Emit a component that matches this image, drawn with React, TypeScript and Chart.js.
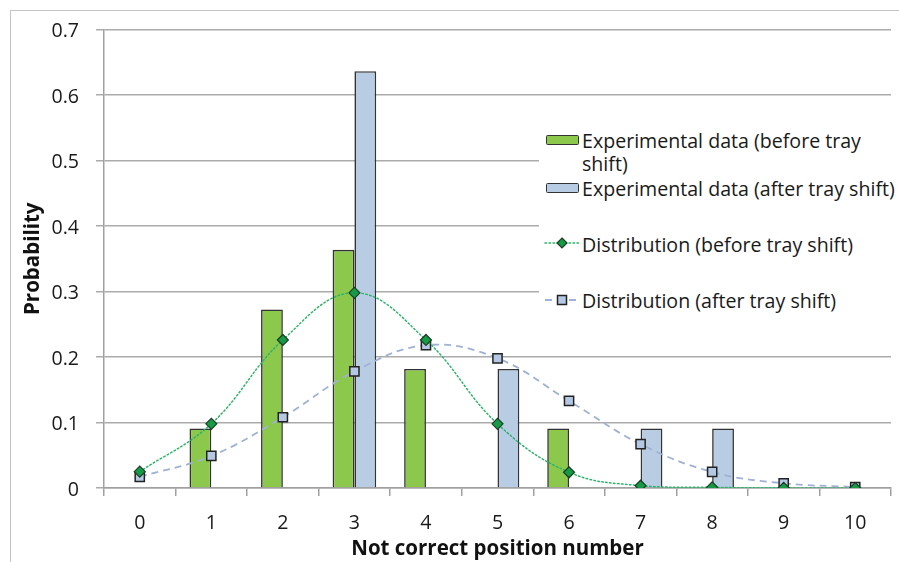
import React, { useEffect, useRef } from "react";
import { Chart, registerables } from "chart.js";

Chart.register(...registerables);

const categories = ["0", "1", "2", "3", "4", "5", "6", "7", "8", "9", "10"];
const beforeBars = [0, 0.0909, 0.2727, 0.3636, 0.1818, 0, 0.0909, 0, 0, 0, 0];
const afterBars = [0, 0, 0, 0.6364, 0, 0.1818, 0, 0.0909, 0.0909, 0, 0];
const beforeDist = [0.025, 0.098, 0.226, 0.298, 0.226, 0.098, 0.024, 0.0035, 0.001, 0.0002, 0];
const afterDist = [0.017, 0.049, 0.108, 0.178, 0.218, 0.198, 0.133, 0.067, 0.0245, 0.0072, 0.0015];
const yTicks = [0, 0.1, 0.2, 0.3, 0.4, 0.5, 0.6, 0.7];

const legendLabels = [
  "Experimental data (before tray shift)",
  "Experimental data (after tray shift)",
  "Distribution (before tray shift)",
  "Distribution (after tray shift)",
];

const FONT = "'Open Sans', sans-serif";
const GREEN = "#8cc84b";
const BLUE = "#b8cce4";
const BORDER = "#333";
const LINE_GREEN = "#2db36a";
const LINE_BLUE = "#9fb2d4";
const DIAMOND = "#159a45";
const TEXT_SIZE = 19.6;
const TITLE_SIZE = 20.5;

export default function App() {
  const ref = useRef<HTMLCanvasElement | null>(null);

  useEffect(() => {
    if (!ref.current) return;
    const chart = new Chart(ref.current, {
      type: "bar",
      data: {
        labels: categories,
        datasets: [
          {
            type: "line",
            label: legendLabels[2],
            data: beforeDist,
            borderColor: LINE_GREEN,
            borderWidth: 1.5,
            borderDash: [1.5, 2.5],
            borderCapStyle: "round",
            tension: 0.4,
            pointStyle: "rectRot",
            pointRadius: 5.5,
            pointBackgroundColor: DIAMOND,
            pointBorderColor: "#1d3d26",
            pointBorderWidth: 1.2,
            order: 0,
          } as any,
          {
            type: "line",
            label: legendLabels[3],
            data: afterDist,
            borderColor: LINE_BLUE,
            borderWidth: 1.8,
            borderDash: [7, 5],
            tension: 0.4,
            pointStyle: "rect",
            pointRadius: 6.5,
            pointBackgroundColor: "#b4c8e3",
            pointBorderColor: "#222",
            pointBorderWidth: 1.5,
            order: 0,
          } as any,
          {
            type: "bar",
            label: legendLabels[0],
            data: beforeBars,
            backgroundColor: GREEN,
            borderColor: BORDER,
            borderWidth: 1.6,
            categoryPercentage: 0.61,
            barPercentage: 1,
            order: 1,
          },
          {
            type: "bar",
            label: legendLabels[1],
            data: afterBars,
            backgroundColor: BLUE,
            borderColor: BORDER,
            borderWidth: 1.6,
            categoryPercentage: 0.61,
            barPercentage: 1,
            order: 1,
          },
        ],
      },
      options: {
        animation: false,
        responsive: false,
        devicePixelRatio: 1,
        layout: { padding: { top: 29.5, left: 0, right: 0, bottom: 0 } },
        plugins: { legend: { display: false }, tooltip: { enabled: false } },
        scales: {
          x: {
            type: "category",
            offset: true,
            afterFit: (s: any) => {
              s.height = 74;
            },
            grid: {
              offset: true,
              drawOnChartArea: false,
              drawTicks: true,
              tickLength: 8,
              color: "#a0a0a0",
              lineWidth: 1.5,
            },
            border: { color: "#a0a0a0", width: 1.5 },
            ticks: {
              color: "#1a1a1a",
              font: { family: FONT, size: TEXT_SIZE },
              padding: 16,
              maxRotation: 0,
              autoSkip: false,
            },
            title: {
              display: true,
              text: "Not correct position number",
              color: "#111",
              font: { family: FONT, size: TITLE_SIZE, weight: "bold" },
              padding: { top: 0, bottom: 1 },
            },
          },
          y: {
            min: 0,
            max: 0.7,
            afterFit: (s: any) => {
              s.width = 104;
            },
            afterBuildTicks: (s: any) => {
              s.ticks = yTicks.map((v) => ({ value: v }));
            },
            grid: {
              color: "#ababab",
              lineWidth: 1.5,
              drawTicks: true,
              tickLength: 8,
            },
            border: { color: "#a0a0a0", width: 1.5 },
            ticks: {
              color: "#1a1a1a",
              font: { family: FONT, size: TEXT_SIZE },
              padding: 17,
              labelOffset: 2,
              callback: (v: any) => (Number(v) === 0 ? "0" : Number(v).toFixed(1)),
            },
            title: {
              display: true,
              text: "Probability",
              color: "#111",
              font: { family: FONT, size: TITLE_SIZE, weight: "bold" },
              padding: { top: 21, bottom: 0 },
            },
          },
        },
      },
    });
    return () => chart.destroy();
  }, []);

  const textStyle: React.CSSProperties = {
    position: "absolute",
    left: 582,
    fontFamily: FONT,
    fontSize: TEXT_SIZE,
    lineHeight: "23px",
    color: "#1a1a1a",
    whiteSpace: "nowrap",
  };

  return (
    <div
      style={{
        position: "absolute",
        left: 0,
        top: 0,
        width: 899,
        height: 562,
        overflow: "hidden",
        background: "#fff",
      }}
    >
      <div
        style={{
          position: "absolute",
          left: 10,
          top: 10,
          width: 900,
          height: 560,
          borderLeft: "1px solid #c4c4c4",
          borderTop: "1px solid #c4c4c4",
        }}
      />
      <canvas
        ref={ref}
        width={899}
        height={562}
        style={{ position: "absolute", left: 0, top: 0, width: 899, height: 562 }}
      />
      {/* legend box (white background hides gridlines) */}
      <div
        style={{
          position: "absolute",
          left: 539,
          top: 106,
          width: 360,
          height: 214,
          background: "#fff",
        }}
      />
      <div
        style={{
          position: "absolute",
          left: 546,
          top: 135,
          width: 31,
          height: 8,
          background: GREEN,
          border: `1.5px solid ${BORDER}`,
          borderRadius: 1.5,
        }}
      />
      <div style={{ ...textStyle, top: 129 }}>
        Experimental data (before tray
        <br />
        shift)
      </div>
      <div
        style={{
          position: "absolute",
          left: 546,
          top: 183,
          width: 31,
          height: 8,
          background: BLUE,
          border: `1.5px solid ${BORDER}`,
          borderRadius: 1.5,
        }}
      />
      <div style={{ ...textStyle, top: 177 }}>{legendLabels[1]}</div>
      <svg
        style={{ position: "absolute", left: 543, top: 235 }}
        width={40}
        height={16}
      >
        <line
          x1={2}
          y1={8}
          x2={38}
          y2={8}
          stroke={LINE_GREEN}
          strokeWidth={1.5}
          strokeDasharray="1.5 2.5"
          strokeLinecap="round"
        />
        <polygon
          points="19,3 24,8 19,13 14,8"
          fill={DIAMOND}
          stroke="#1d3d26"
          strokeWidth={1.2}
        />
      </svg>
      <div style={{ ...textStyle, top: 232.5 }}>{legendLabels[2]}</div>
      <svg
        style={{ position: "absolute", left: 543, top: 292 }}
        width={40}
        height={16}
      >
        <line
          x1={2}
          y1={8}
          x2={38}
          y2={8}
          stroke={LINE_BLUE}
          strokeWidth={1.8}
          strokeDasharray="7 5"
        />
        <rect
          x={14.5}
          y={3.5}
          width={9}
          height={9}
          fill="#b4c8e3"
          stroke="#222"
          strokeWidth={1.5}
        />
      </svg>
      <div style={{ ...textStyle, top: 289 }}>{legendLabels[3]}</div>
    </div>
  );
}
